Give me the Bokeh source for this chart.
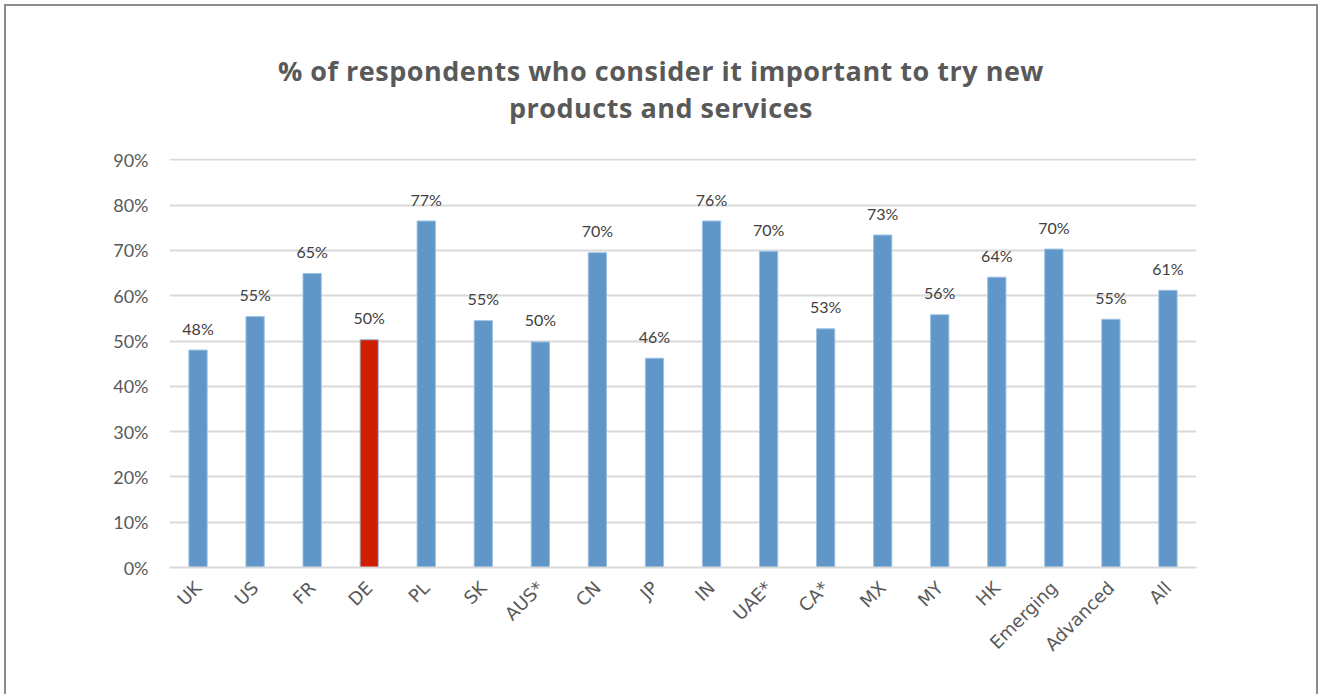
from bokeh.plotting import figure
from bokeh.models import ColumnDataSource, FixedTicker, NumeralTickFormatter, Range1d, Div
from bokeh.layouts import column
from bokeh.core.properties import value
from bokeh.embed import file_html
from bokeh.resources import INLINE
from math import pi

categories = ["UK", "US", "FR", "DE", "PL", "SK", "AUS*", "CN", "JP", "IN",
              "UAE*", "CA*", "MX", "MY", "HK", "Emerging", "Advanced", "All"]
values = [0.480, 0.554, 0.649, 0.503, 0.765, 0.545, 0.498, 0.695, 0.462, 0.765,
          0.698, 0.527, 0.734, 0.558, 0.641, 0.703, 0.548, 0.612]
value_labels = ["48%", "55%", "65%", "50%", "77%", "55%", "50%", "70%", "46%", "76%",
                "70%", "53%", "73%", "56%", "64%", "70%", "55%", "61%"]
bar_colors = ["#6096C8", "#6096C8", "#6096C8", "#D01E00"] + ["#6096C8"] * 14
y_ticks = [0, 0.1, 0.2, 0.3, 0.4, 0.5, 0.6, 0.7, 0.8, 0.9]
title_lines = ["% of respondents who consider it important to try new",
               "products and services"]

FONT = "Lato"
XFONT = "DejaVu Sans"

src = ColumnDataSource(dict(cat=categories, val=values, lab=value_labels, color=bar_colors))

line_style = ("font-family:\"Open Sans\";font-weight:bold;font-size:27px;letter-spacing:0.5px;"
              "line-height:37px;height:37px;color:#595959;text-align:center;width:1310px")
title_div = Div(
    text=("<div style='padding-top:46px'>"
          + "".join(f"<div style='{line_style}'>{t}</div>" for t in title_lines)
          + "</div>"),
    width=1310, height=120, margin=0)

p = figure(x_range=categories, y_range=Range1d(0, 0.903), width=1310, height=568,
           output_backend="svg", toolbar_location=None, margin=0,
           min_border_left=163, min_border_right=120, min_border_top=32, min_border_bottom=127)
p.outline_line_color = None
p.background_fill_color = "white"
p.border_fill_color = "white"

p.vbar(x="cat", top="val", width=0.32, color="color", line_color="#9cc0e3", line_width=1, source=src)
p.text(x="cat", y="val", text="lab", source=src, text_align="center", text_baseline="middle",
       y_offset=-22, text_font_size="16px", text_color="#404040", text_font=value(FONT))

p.yaxis.ticker = FixedTicker(ticks=y_ticks)
p.yaxis.formatter = NumeralTickFormatter(format="0%")
p.yaxis.axis_line_color = None
p.yaxis.major_tick_line_color = None
p.yaxis.minor_tick_line_color = None
p.yaxis.major_label_standoff = 15
p.yaxis.major_label_text_font_size = "18px"
p.yaxis.major_label_text_color = "#595959"
p.yaxis.major_label_text_font = FONT

p.xaxis.axis_line_color = "#d9d9d9"
p.xaxis.axis_line_width = 2
p.xaxis.major_tick_line_color = None
p.xaxis.minor_tick_line_color = None
p.xaxis.major_label_orientation = pi / 4
p.xaxis.major_label_standoff = 11
p.xaxis.major_label_text_font_size = "18px"
p.xaxis.major_label_text_color = "#595959"
p.xaxis.major_label_text_font = XFONT

p.xgrid.grid_line_color = None
p.ygrid.grid_line_color = "#d9d9d9"
p.ygrid.grid_line_width = 2
p.ygrid.ticker = FixedTicker(ticks=y_ticks)

layout = column(title_div, p, spacing=0)
layout.styles = {"border-left": "2px solid #8c8c8c", "border-top": "2px solid #8c8c8c",
                 "border-right": "2px solid #8c8c8c", "margin-left": "4px", "margin-top": "4px",
                 "background-color": "white"}

open("out.html", "w").write(file_html(layout, INLINE))
